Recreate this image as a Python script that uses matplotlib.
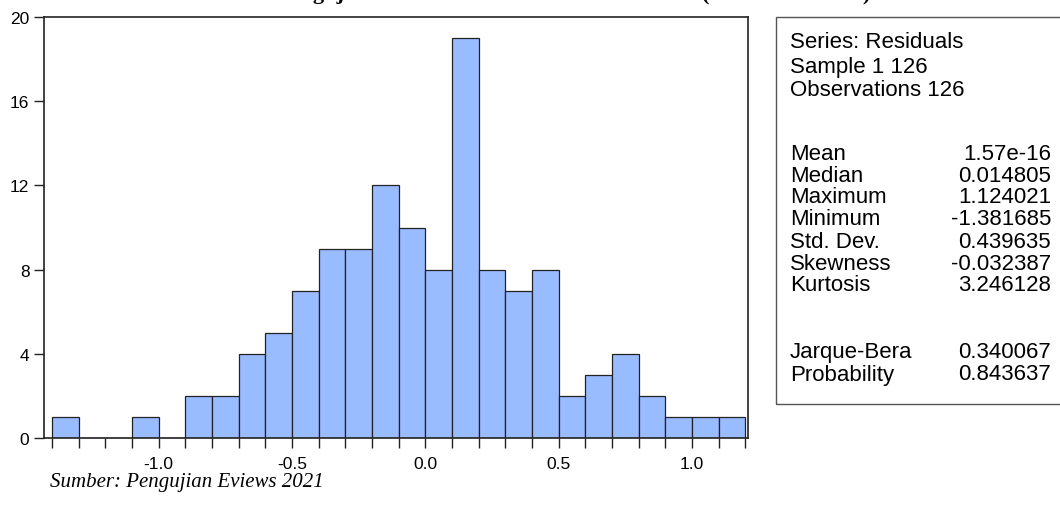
import numpy as np
import matplotlib
matplotlib.use('Agg')
import matplotlib.pyplot as plt
from matplotlib.patches import Rectangle

# histogram of residuals (bin width 0.1)
bin_edges = np.round(np.arange(-1.4, 1.2001, 0.1), 2)
counts = [1, 0, 0, 1, 0, 2, 2, 4, 5, 7, 9, 9, 12, 10, 8, 19, 8, 7, 8, 2, 3, 4, 2, 1, 1, 1]

stat_header = ['Series: Residuals', 'Sample 1 126', 'Observations 126']
stat_names = ['Mean', 'Median', 'Maximum', 'Minimum', 'Std. Dev.', 'Skewness', 'Kurtosis']
stat_values = ['1.57e-16', '0.014805', '1.124021', '-1.381685', '0.439635', '-0.032387', '3.246128']
test_names = ['Jarque-Bera', 'Probability']
test_values = ['0.340067', '0.843637']

W, H = 1060, 506
fig = plt.figure(figsize=(W / 100, H / 100), dpi=100)

def px(x, y):
    # pixel coords (top-left origin) -> figure fraction
    return x / W, 1 - y / H

l, t = px(44, 18)
r, b = px(748, 439)
ax = fig.add_axes([l, b, r - l, t - b])

ax.bar(bin_edges[:-1], counts, width=0.1, align='edge',
       color='#99bbff', edgecolor='#222222', linewidth=0.9)
ax.set_xlim(-1.43, 1.21)
ax.set_ylim(0, 20)
ax.set_yticks([0, 4, 8, 12, 16, 20])
ticks = np.round(np.arange(-1.4, 1.21, 0.1), 2)
ax.set_xticks(ticks)
xl = []
for v in ticks:
    xl.append('%.1f' % v if abs(round(v * 2) - v * 2) < 1e-6 else '')
ax.set_xticklabels(xl)
ax.tick_params(direction='out', length=7, width=1, colors='#222222',
               labelsize=12.5)
ax.tick_params(axis='x', pad=6)
for lab in ax.get_xticklabels() + ax.get_yticklabels():
    lab.set_fontfamily('Liberation Sans')
    lab.set_color('black')
for s in ax.spines.values():
    s.set_color('#222222')
    s.set_linewidth(1.2)

# stats box
bx0, by0 = px(776, 18)
bx1, by1 = px(1075, 405)
fig.patches.append(Rectangle((bx0, by1), bx1 - bx0, by0 - by1,
                             transform=fig.transFigure, fill=False,
                             edgecolor='#555555', linewidth=1))
fs = 16
ys = [43, 67, 91]
for y, txt in zip(ys, stat_header):
    fig.text(*px(790, y), txt, fontsize=fs, family='Liberation Sans', va='center')
for i, (n, v) in enumerate(zip(stat_names, stat_values)):
    y = 154 + i * 22
    fig.text(*px(790, y), n, fontsize=fs, family='Liberation Sans', va='center')
    fig.text(*px(1051, y), v, fontsize=fs, family='Liberation Sans', va='center', ha='right')
for i, (n, v) in enumerate(zip(test_names, test_values)):
    y = 353 + i * 22
    fig.text(*px(790, y), n, fontsize=fs, family='Liberation Sans', va='center')
    fig.text(*px(1051, y), v, fontsize=fs, family='Liberation Sans', va='center', ha='right')

# title, cut off at the top of the picture (only descenders show)
ty = 1.0 + 1 / H
fig.text(px(222, 0)[0], ty, 'Hasil Pengujian Normalitas Residual',
         ha='left', va='baseline', fontsize=16, fontweight='bold',
         family='Liberation Serif')
fig.text(px(702, 0)[0], ty, '(Hasil Olah Data)',
         ha='left', va='baseline', fontsize=16, fontweight='bold',
         family='Liberation Serif')

fig.text(*px(50, 483), 'Sumber: Pengujian Eviews 2021', fontsize=15,
         style='italic', family='Liberation Serif', va='center')

fig.savefig('out.png', dpi=100)
